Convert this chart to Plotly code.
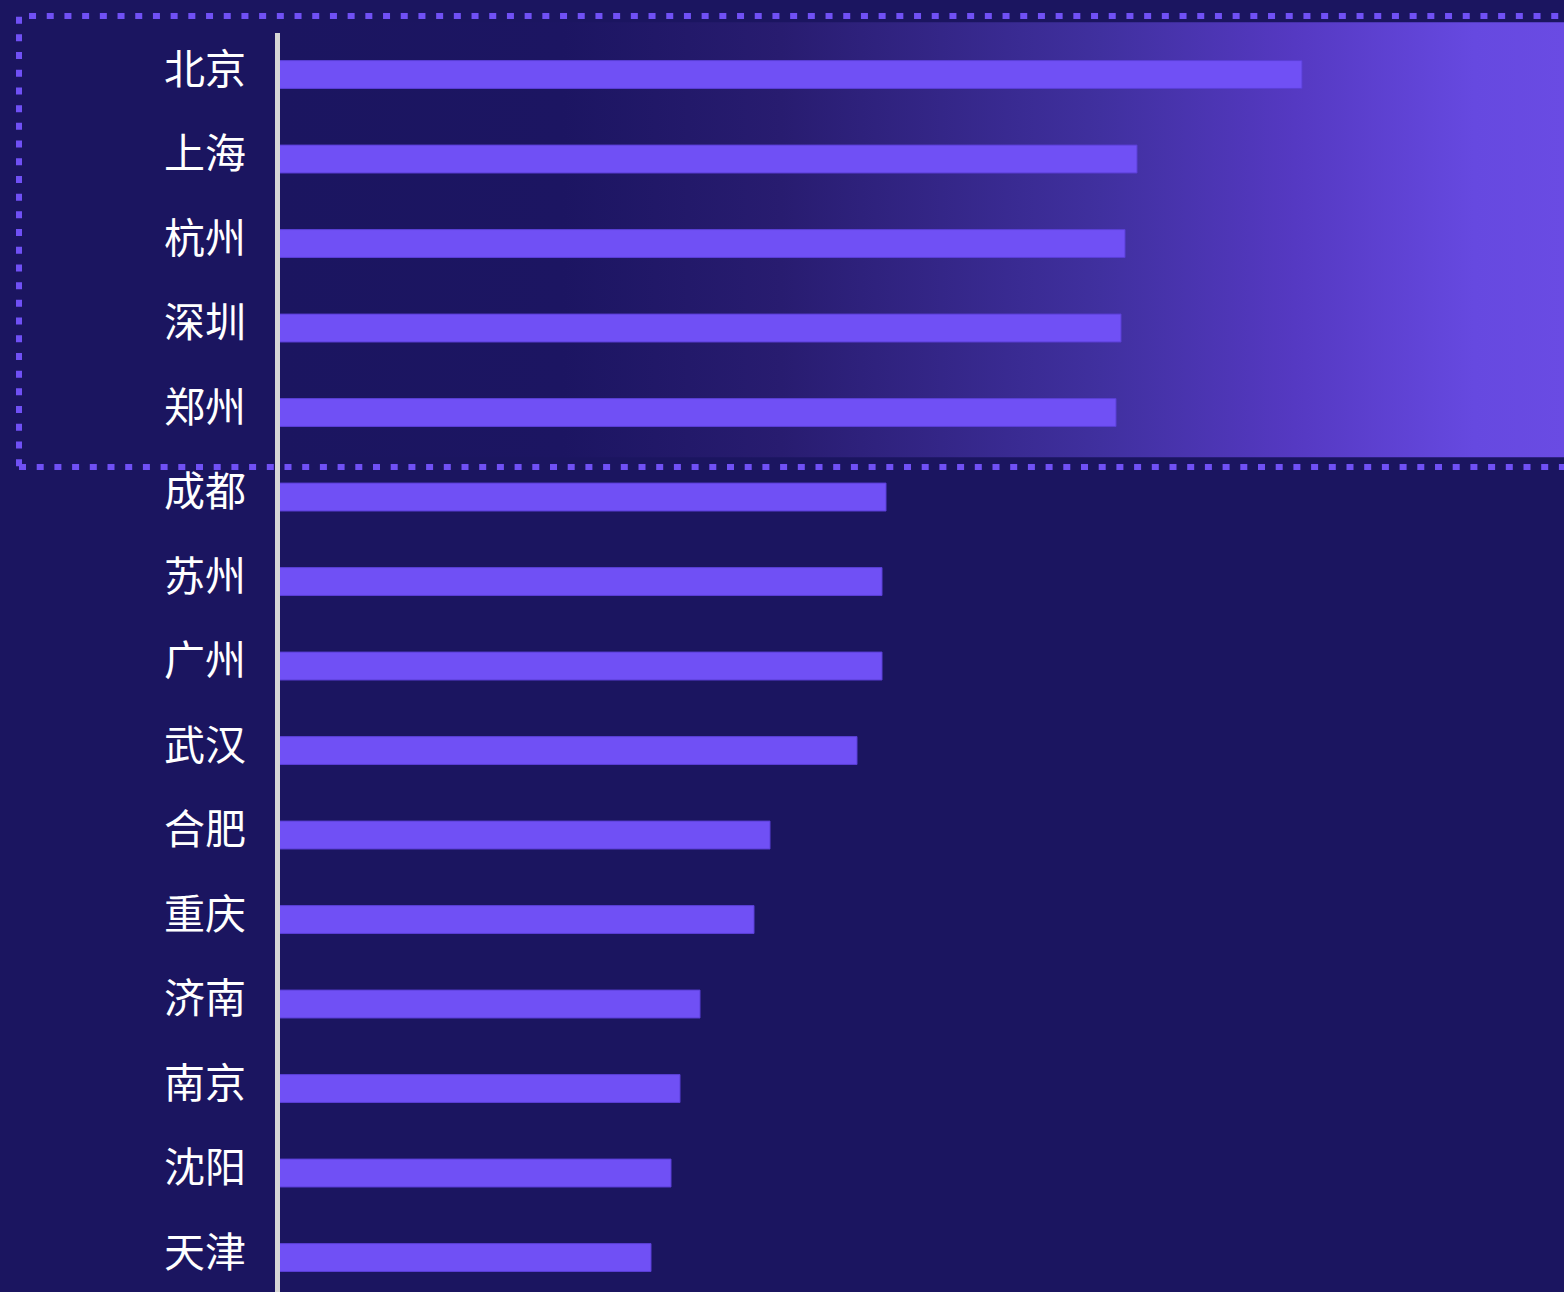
import plotly.graph_objects as go

cities = ["北京", "上海", "杭州", "深圳", "郑州", "成都", "苏州", "广州",
          "武汉", "合肥", "重庆", "济南", "南京", "沈阳", "天津"]
values = [102.4, 85.9, 84.7, 84.3, 83.8, 60.8, 60.4, 60.4,
          57.9, 49.2, 47.6, 42.2, 40.2, 39.3, 37.3]
highlight_count = 5

BG = "#1B1560"
BAR = "#7050F5"
X_MAX = 128.6
Y_RANGE = [14.408, -0.882]
W, H, L = 1564, 1292, 278

idx = list(range(len(cities)))
gy0 = -0.5 - 0.12
gy1 = (highlight_count - 1) + 0.5 + 0.03

fig = go.Figure()

# gradient highlight behind top cities (base axes)
fig.add_trace(go.Scatter(
    x=[0.2, X_MAX, X_MAX, 0.2, 0.2],
    y=[gy0, gy0, gy1, gy1, gy0],
    mode="lines", fill="toself",
    line=dict(width=0),
    fillgradient=dict(
        type="horizontal",
        colorscale=[[0.0, BG], [0.22, "#1C1562"], [0.39, "#281C70"],
                    [0.64, "#40309F"], [0.79, "#5539C2"],
                    [0.93, "#6649E0"], [1.0, "#6A4BE3"]],
    ),
    hoverinfo="skip", showlegend=False,
    xaxis="x", yaxis="y",
))

fig.add_trace(go.Bar(
    x=values, y=idx, orientation="h",
    marker=dict(color=BAR, line=dict(color="#5B3FD6", width=1)),
    width=0.33,
    showlegend=False,
    xaxis="x2", yaxis="y2",
))

fig.update_layout(
    width=W, height=H,
    margin=dict(l=L, r=0, t=0, b=0),
    paper_bgcolor=BG, plot_bgcolor=BG,
    font=dict(family="Noto Sans CJK SC", color="white"),
    xaxis=dict(range=[0, X_MAX], visible=False, fixedrange=True),
    yaxis=dict(range=Y_RANGE, visible=False, fixedrange=True),
    xaxis2=dict(range=[0, X_MAX], overlaying="x", visible=False, fixedrange=True),
    yaxis2=dict(range=Y_RANGE, overlaying="y", tickmode="array",
                tickvals=idx, ticktext=cities, showgrid=False, zeroline=False,
                showline=False, fixedrange=True,
                ticks="", ticklabelstandoff=31, ticklabelshift=5,
                tickfont=dict(size=41, color="white",
                              family="Noto Sans CJK SC")),
    shapes=[
        # axis line
        dict(type="line", xref="paper", yref="paper",
             x0=-0.5 / (W - L), x1=-0.5 / (W - L),
             y0=0, y1=1 - 33 / H,
             line=dict(color="#D6D6D6", width=5), layer="above"),
        # dashed highlight frame
        dict(type="rect", xref="paper", yref="paper",
             x0=(19 - L) / (W - L), x1=1.02,
             y0=1 - 467 / H, y1=1 - 16 / H,
             line=dict(color=BAR, width=6, dash="7px,10.7px"),
             fillcolor="rgba(0,0,0,0)", layer="above"),
    ],
)

fig.write_html(
    "out.html",
    config={"displayModeBar": False},
    post_script="document.body.style.margin='0';"
                "document.documentElement.style.overflow='hidden';"
                "document.body.style.overflow='hidden';",
)
